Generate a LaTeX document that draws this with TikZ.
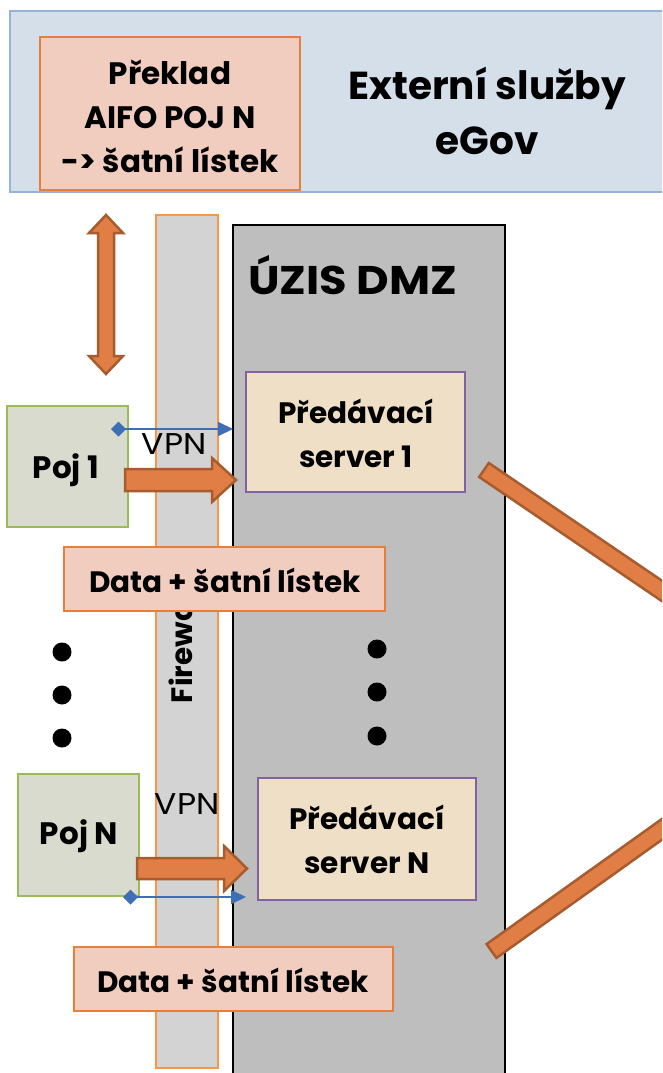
\documentclass[tikz,border=0pt]{standalone}
\usepackage{fontspec}
\setmainfont{Poppins}
\usetikzlibrary{arrows.meta,calc}
\definecolor{topfill}{HTML}{D5DFEA}
\definecolor{topdraw}{HTML}{95B3D7}
\definecolor{pinkfill}{HTML}{F1CDC0}
\definecolor{pinkdraw}{HTML}{E47F3C}
\definecolor{dmzfill}{HTML}{BEBEBE}
\definecolor{fwfill}{HTML}{D3D3D3}
\definecolor{fwdraw}{HTML}{F79646}
\definecolor{srvfill}{HTML}{EFDFC6}
\definecolor{srvdraw}{HTML}{8064A2}
\definecolor{pojfill}{HTML}{D8DBCE}
\definecolor{pojdraw}{HTML}{9BBB59}
\definecolor{arrfill}{HTML}{E07E46}
\definecolor{arrdraw}{HTML}{A65C2E}
\definecolor{vpnblue}{HTML}{3E6FB5}
\begin{document}
\begin{tikzpicture}[x=1pt,y=-1pt,
  every node/.style={inner sep=0pt, outer sep=0pt},
  box/.style={rectangle, anchor=north west},
  topbox/.style={box, fill=topfill, draw=topdraw, line width=2.5pt},
  pinkbox/.style={box, fill=pinkfill, draw=pinkdraw, line width=2pt},
  dmzbox/.style={box, fill=dmzfill, draw=black, line width=2pt},
  fwbox/.style={box, fill=fwfill, draw=fwdraw, line width=2pt},
  srvbox/.style={box, fill=srvfill, draw=srvdraw, line width=1.5pt},
  pojbox/.style={box, fill=pojfill, draw=pojdraw, line width=2.5pt},
  big/.style={font=\bfseries\fontsize{39}{55}\selectfont, align=center},
  mid/.style={font=\bfseries\fontsize{29.5}{44}\selectfont, align=center},
  pinktxt/.style={font=\bfseries\fontsize{31}{44}\selectfont, align=center},
  pojtxt/.style={font=\bfseries\fontsize{31}{40}\selectfont, align=center},
  vpnlbl/.style={font=\fontsize{30}{34}\selectfont, xscale=1.1},
  blockarrow/.style={fill=arrfill, draw=arrdraw, line width=2.5pt, line join=miter},
  vpn/.style={draw=vpnblue, line width=2pt, {Diamond[length=15pt,width=15pt]}-{Triangle[length=15pt,width=14pt]}},
  dot/.style={circle, fill=black, minimum size=19pt}
]
\useasboundingbox (0,0) rectangle (662,1073);
\clip (0,0) rectangle (662,1073);

% external services
\node[topbox, minimum width=700pt, minimum height=181pt] (ext) at (10,11) {};
\node[big] (exttxt) at (487,111) {Externí služby\\eGov};
\node[pinkbox, minimum width=260pt, minimum height=153pt] (xlate) at (40,37) {};
\node[pinktxt] (xlatetxt) at (170,116) {Překlad\\AIFO POJ N\\-> šatní lístek};

% DMZ and firewall
\node[dmzbox, minimum width=272pt, minimum height=900pt] (dmz) at (233,225) {};
\node[big, font=\bfseries\fontsize{40}{55}\selectfont, anchor=base west, xscale=1.12] (dmztxt) at (248,294) {ÚZIS DMZ};
\node[fwbox, minimum width=62pt, minimum height=853pt] (fw) at (156,215) {};
\node[mid, rotate=90, anchor=base west] (fwtxt) at (192,703) {Firewall};

% servers
\node[srvbox, minimum width=219pt, minimum height=120pt] (s1) at (246,372) {};
\node[mid] (s1txt) at (356,433) {Předávací\\server 1};
\node[srvbox, minimum width=218pt, minimum height=122pt] (sN) at (258,778) {};
\node[mid] (sNtxt) at (367,839) {Předávací\\server N};

% insurers
\node[pojbox, minimum width=121pt, minimum height=121pt] (p1) at (7,406) {};
\node[pojtxt] (p1txt) at (66,470) {Poj 1};
\node[pojbox, minimum width=121pt, minimum height=122pt] (pN) at (18,774) {};
\node[pojtxt] (pNtxt) at (79,836) {Poj N};

% double arrow
\coordinate (dtop) at (106,215);
\draw[blockarrow] (dtop) -- ++(17,18) -- ++(-9,0) -- ++(0,123) -- ++(9,0) -- ++(-17,18)
  -- ++(-17,-18) -- ++(9,0) -- ++(0,-123) -- ++(-9,0) -- cycle;

% VPN arrows
\coordinate (v1s) at (111,429);
\coordinate (v1e) at (233,429);
\draw[vpn] (v1s) -- (v1e);
\node[vpnlbl] (v1lbl) at (174,444) {VPN};
\coordinate (vNs) at (123,897);
\coordinate (vNe) at (246,897);
\draw[vpn] (vNs) -- (vNe);
\node[vpnlbl] (vNlbl) at (187,804) {VPN};

% block arrows
\coordinate (b1s) at (125,480);
\draw[blockarrow] (b1s) ++(0,-11) -- ++(87,0) -- ++(0,-11) -- ++(24,22) -- ++(-24,22)
  -- ++(0,-11) -- ++(-87,0) -- cycle;
\coordinate (bNs) at (137,868.5);
\draw[blockarrow] (bNs) ++(0,-10.5) -- ++(87,0) -- ++(0,-12) -- ++(23,22.5) -- ++(-23,22.5)
  -- ++(0,-12) -- ++(-87,0) -- cycle;

% data labels
\node[pinkbox, minimum width=321pt, minimum height=64pt] (d1) at (64,547) {};
\node[mid] (d1txt) at (225,580) {Data + šatní lístek};
\node[pinkbox, minimum width=319pt, minimum height=64pt] (dN) at (74,947) {};
\node[mid] (dNtxt) at (233,980) {Data + šatní lístek};

% dots
\node[dot] (l1) at (62,652) {};
\node[dot] (l2) at (62,695) {};
\node[dot] (l3) at (62,738) {};
\node[dot] (r1) at (377,649) {};
\node[dot] (r2) at (377,692) {};
\node[dot] (r3) at (377,736) {};

% outgoing bars
\draw[blockarrow] (479.2,477) -- (488.8,463) -- (736.9,631.6) -- (727.3,645.6) -- cycle;
\draw[blockarrow] (486.6,944.1) -- (496.4,957.9) -- (740.6,783.6) -- (730.8,769.8) -- cycle;
\end{tikzpicture}
\end{document}
